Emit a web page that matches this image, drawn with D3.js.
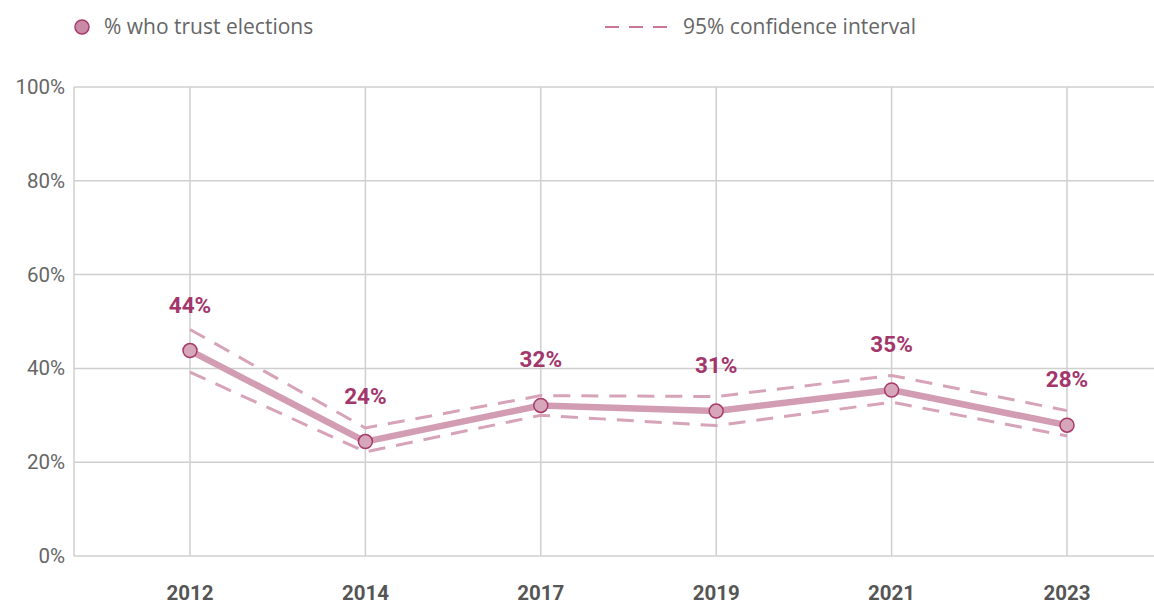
<!DOCTYPE html>
<html>
<head>
<meta charset="utf-8">
<script src="https://cdn.jsdelivr.net/npm/d3@7"></script>
<style>
  body { margin: 0; background: #fff; }
</style>
</head>
<body>
<script>
// trust in elections line chart with 95% CI dashed lines

const years = ['2012', '2014', '2017', '2019', '2021', '2023'];
const trust = [43.8, 24.4, 32.1, 30.9, 35.4, 27.9];
const ciUpper = [48.3, 27.3, 34.2, 34.0, 38.5, 31.0];
const ciLower = [39.2, 22.2, 30.0, 27.8, 32.8, 25.6];
const yTicks = [0, 20, 40, 60, 80, 100];

const width = 1154;
const height = 605;
const margin = ({top: 87, right: 0, bottom: 49, left: 74});

const svg = d3.select('body')
  .append('svg')
  .attr('width', width)
  .attr('height', height);

const yScale = d3.scaleLinear()
  .domain([0, 100])
  .range([height - margin.bottom, margin.top]);

const xScale = d3.scalePoint()
  .domain(years)
  .range([190, 1067]);

// grid
svg.append('g')
  .selectAll('line')
  .data(yTicks)
  .join('line')
  .attr('x1', margin.left)
  .attr('x2', width - margin.right)
  .attr('y1', d => yScale(d))
  .attr('y2', d => yScale(d))
  .attr('stroke', '#cfcfcf')
  .attr('stroke-width', 1.5);

svg.append('g')
  .selectAll('line')
  .data(years)
  .join('line')
  .attr('x1', d => xScale(d))
  .attr('x2', d => xScale(d))
  .attr('y1', margin.top)
  .attr('y2', height - margin.bottom)
  .attr('stroke', '#cfcfcf')
  .attr('stroke-width', 1.5);

svg.append('line')
  .attr('x1', margin.left).attr('x2', margin.left)
  .attr('y1', margin.top).attr('y2', height - margin.bottom)
  .attr('stroke', '#cfcfcf')
  .attr('stroke-width', 1.5);

// y labels
svg.append('g')
  .selectAll('text')
  .data(yTicks)
  .join('text')
  .attr('x', 65)
  .attr('y', d => yScale(d) + 7)
  .attr('text-anchor', 'end')
  .attr('font-family', 'Roboto, sans-serif')
  .attr('font-size', 20.5)
  .attr('fill', '#666')
  .text(d => d + '%');

// x labels
svg.append('g')
  .selectAll('text')
  .data(years)
  .join('text')
  .attr('x', d => xScale(d))
  .attr('y', 600)
  .attr('text-anchor', 'middle')
  .attr('font-family', 'Roboto, sans-serif')
  .attr('font-weight', 'bold')
  .attr('font-size', 20.5)
  .attr('fill', '#555')
  .text(d => d);

const line = d3.line()
  .x(d => xScale(d[0]))
  .y(d => yScale(d[1]));

// CI lines
[ciUpper, ciLower].forEach(arr => {
  svg.append('path')
    .datum(years.map((y, i) => [y, arr[i]]))
    .attr('d', line)
    .attr('fill', 'none')
    .attr('stroke', '#d7a3b9')
    .attr('stroke-width', 3)
    .attr('stroke-dasharray', '17,11');
});

// main line
svg.append('path')
  .datum(years.map((y, i) => [y, trust[i]]))
  .attr('d', line)
  .attr('fill', 'none')
  .attr('stroke', '#d29cb3')
  .attr('stroke-width', 6.5)
  .attr('stroke-linejoin', 'round');

svg.append('g')
  .selectAll('circle')
  .data(trust)
  .join('circle')
  .attr('cx', (d, i) => xScale(years[i]))
  .attr('cy', d => yScale(d))
  .attr('r', 7)
  .attr('fill', '#d6a6bb')
  .attr('stroke', '#a83a6a')
  .attr('stroke-width', 1.5);

// value labels
svg.append('g')
  .selectAll('text')
  .data(trust)
  .join('text')
  .attr('x', (d, i) => xScale(years[i]))
  .attr('y', d => yScale(d) - 38)
  .attr('text-anchor', 'middle')
  .attr('font-family', 'Roboto, sans-serif')
  .attr('font-weight', 'bold')
  .attr('font-size', 22.5)
  .attr('fill', '#a3366b')
  .text(d => Math.round(d) + '%');

// legend
svg.append('circle')
  .attr('cx', 82).attr('cy', 27).attr('r', 7)
  .attr('fill', '#c98aa6')
  .attr('stroke', '#a83a6a')
  .attr('stroke-width', 1.5);

svg.append('text')
  .attr('x', 104).attr('y', 34)
  .attr('font-family', '"Open Sans", sans-serif')
  .attr('font-size', 21)
  .attr('fill', '#666')
  .text('% who trust elections');

svg.append('line')
  .attr('x1', 605).attr('x2', 668)
  .attr('y1', 27).attr('y2', 27)
  .attr('stroke', '#b84a7a')
  .attr('stroke-width', 1.5)
  .attr('stroke-dasharray', '14,10');

svg.append('text')
  .attr('x', 683).attr('y', 34)
  .attr('font-family', '"Open Sans", sans-serif')
  .attr('font-size', 21)
  .attr('fill', '#666')
  .text('95% confidence interval');
</script>
</body>
</html>
